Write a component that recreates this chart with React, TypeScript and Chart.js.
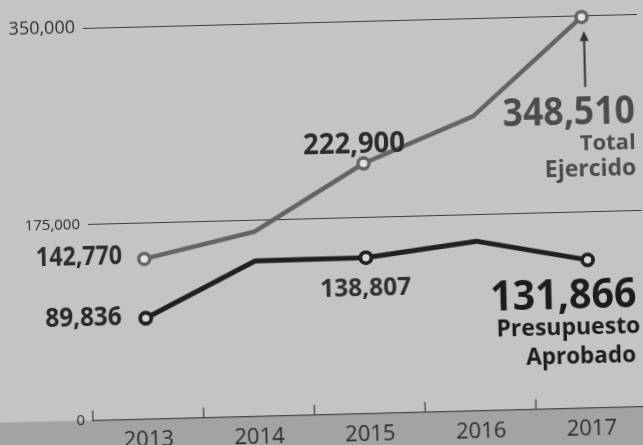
import React, { useEffect, useRef } from 'react';
import { Chart, registerables } from 'chart.js';

Chart.register(...registerables);

// ---- data ----
const years = ['2013', '2014', '2015', '2016', '2017'];
const totalEjercido = [142770, 164500, 222900, 262500, 348510];
const presupuestoAprobado = [89836, 138500, 138807, 151000, 131866];
const seriesNames = ['Total Ejercido', 'Presupuesto Aprobado'];
const yTickValues = [0, 175000, 350000];
const markedYears = ['2013', '2015', '2017'];

// ---- styles ----
const BG = '#c4c4c4';
const BAND = '#a3a3a3';
const TOTAL_COLOR = '#646464';
const PRES_COLOR = '#202020';
const FONT = '"Open Sans", "Noto Sans", sans-serif';
const ROTATION = -1.45;

const fmt = (v: number) => v.toLocaleString('en-US');

type Ann = {
  ds: number;
  idx: number;
  text: string;
  dx: number;
  dy: number;
  align: CanvasTextAlign;
  size: number;
  weight: number;
  color: string;
  sx: number;
};

const last = years.length - 1;
const [totalLine1, totalLine2] = seriesNames[0].split(' ');
const [presLine1, presLine2] = seriesNames[1].split(' ');

const annotations: Ann[] = [
  { ds: 0, idx: 0, text: fmt(totalEjercido[0]), dx: -22, dy: 5, align: 'right', size: 27, weight: 700, color: '#2c2c2c', sx: 0.86 },
  { ds: 1, idx: 0, text: fmt(presupuestoAprobado[0]), dx: -24, dy: 6, align: 'right', size: 27, weight: 700, color: '#282828', sx: 0.9 },
  { ds: 0, idx: 2, text: fmt(totalEjercido[2]), dx: -9, dy: -11, align: 'center', size: 28, weight: 700, color: '#2c2c2c', sx: 0.98 },
  { ds: 1, idx: 2, text: fmt(presupuestoAprobado[2]), dx: -1, dy: 38, align: 'center', size: 25, weight: 700, color: '#303030', sx: 0.98 },
  { ds: 0, idx: last, text: fmt(totalEjercido[last]), dx: 51, dy: 107, align: 'right', size: 40, weight: 700, color: '#4c4c4c', sx: 0.89 },
  { ds: 0, idx: last, text: totalLine1, dx: 51, dy: 133, align: 'right', size: 22, weight: 700, color: '#4c4c4c', sx: 1 },
  { ds: 0, idx: last, text: totalLine2, dx: 51, dy: 159, align: 'right', size: 23, weight: 700, color: '#4c4c4c', sx: 1 },
  { ds: 1, idx: last, text: fmt(presupuestoAprobado[last]), dx: 48, dy: 48, align: 'right', size: 41, weight: 700, color: '#1c1c1c', sx: 0.96 },
  { ds: 1, idx: last, text: presLine1, dx: 51, dy: 74, align: 'right', size: 23, weight: 700, color: '#1c1c1c', sx: 1 },
  { ds: 1, idx: last, text: presLine2, dx: 46, dy: 103, align: 'right', size: 22.5, weight: 700, color: '#1c1c1c', sx: 1 },
];

const backgroundPlugin = {
  id: 'paperBackground',
  beforeDraw(chart: any) {
    const { ctx, width, height, chartArea } = chart;
    ctx.save();
    ctx.fillStyle = BG;
    ctx.fillRect(0, 0, width, height);
    ctx.fillStyle = BAND;
    ctx.fillRect(0, chartArea.bottom, width, height - chartArea.bottom);
    ctx.restore();
  },
};

const xTickMarksPlugin = {
  id: 'xTickMarks',
  afterDraw(chart: any) {
    const { ctx, chartArea } = chart;
    const xs = chart.scales.x;
    const marks: number[] = [chartArea.left];
    for (let i = 0; i < years.length - 1; i++) {
      marks.push((xs.getPixelForValue(i) + xs.getPixelForValue(i + 1)) / 2);
    }
    ctx.save();
    ctx.strokeStyle = '#444444';
    ctx.lineWidth = 1.3;
    marks.forEach((x) => {
      ctx.beginPath();
      ctx.moveTo(x, chartArea.bottom);
      ctx.lineTo(x, chartArea.bottom - 10);
      ctx.stroke();
    });
    ctx.restore();
  },
};

const labelsPlugin = {
  id: 'valueLabels',
  afterDatasetsDraw(chart: any) {
    const { ctx } = chart;
    ctx.save();
    annotations.forEach((a) => {
      const el = chart.getDatasetMeta(a.ds).data[a.idx];
      if (!el) return;
      ctx.save();
      ctx.translate(el.x + a.dx, el.y + a.dy);
      ctx.scale(a.sx, 1);
      ctx.font = `${a.weight} ${a.size}px ${FONT}`;
      ctx.fillStyle = a.color;
      ctx.textAlign = a.align;
      ctx.textBaseline = 'alphabetic';
      ctx.fillText(a.text, 0, 0);
      ctx.restore();
    });
    // arrow from the last total label up to its point
    const p = chart.getDatasetMeta(0).data[last];
    if (p) {
      const x = p.x + 2;
      const tip = p.y + 14;
      const bottom = p.y + 70;
      ctx.strokeStyle = '#333333';
      ctx.fillStyle = '#333333';
      ctx.lineWidth = 2;
      ctx.beginPath();
      ctx.moveTo(x, bottom);
      ctx.lineTo(x, tip + 8);
      ctx.stroke();
      ctx.beginPath();
      ctx.moveTo(x, tip);
      ctx.lineTo(x - 4.5, tip + 10);
      ctx.lineTo(x + 4.5, tip + 10);
      ctx.closePath();
      ctx.fill();
    }
    ctx.restore();
  },
};

const radiusFor = (r: number) => years.map((y) => (markedYears.includes(y) ? r : 0));

export default function App() {
  const ref = useRef<HTMLCanvasElement | null>(null);

  useEffect(() => {
    document.documentElement.style.overflow = 'hidden';
    document.body.style.margin = '0';
    document.body.style.background = BG;
    const canvas = ref.current;
    if (!canvas) return;
    Chart.defaults.font.family = FONT;
    const chart = new Chart(canvas, {
      type: 'line',
      data: {
        labels: years,
        datasets: [
          {
            label: seriesNames[0],
            data: totalEjercido,
            borderColor: TOTAL_COLOR,
            borderWidth: 4.5,
            tension: 0,
            borderJoinStyle: 'round',
            pointRadius: radiusFor(5.5),
            pointBorderWidth: 3.5,
            pointBorderColor: TOTAL_COLOR,
            pointBackgroundColor: '#e2e2e2',
            clip: false,
          } as any,
          {
            label: seriesNames[1],
            data: presupuestoAprobado,
            borderColor: PRES_COLOR,
            borderWidth: 5,
            tension: 0,
            borderJoinStyle: 'round',
            pointRadius: radiusFor(5.5),
            pointBorderWidth: 3.8,
            pointBorderColor: PRES_COLOR,
            pointBackgroundColor: '#d8d8d8',
            clip: false,
          } as any,
        ],
      },
      options: {
        animation: false,
        responsive: false,
        devicePixelRatio: 1,
        layout: { padding: { left: 20, right: 21, top: 42, bottom: 0 } },
        plugins: {
          legend: { display: false },
          tooltip: { enabled: false },
        },
        scales: {
          x: {
            type: 'category',
            offset: true,
            grid: { display: false, offset: true },
            border: { display: true, color: '#484848', width: 1.3 },
            ticks: {
              color: '#2e2e2e',
              font: { size: 22 },
              padding: 0,
              maxRotation: 0,
              autoSkip: false,
            },
            afterFit: (s: any) => {
              s.height = 50.5;
            },
          },
          y: {
            min: 0,
            max: 350000,
            afterBuildTicks: (s: any) => {
              s.ticks = yTickValues.map((v) => ({ value: v }));
            },
            grid: { color: '#3c3c3c', lineWidth: 1, drawTicks: false },
            border: { display: false },
            ticks: {
              padding: 8,
              color: '#2e2e2e',
              font: (c: any) => ({
                size: c.tick && c.tick.value === 350000 ? 18 : 15,
              }),
              callback: (v: any) => fmt(Number(v)),
            },
            afterFit: (s: any) => {
              s.width = 88;
            },
          },
        },
      } as any,
      plugins: [backgroundPlugin, xTickMarksPlugin, labelsPlugin],
    });
    return () => chart.destroy();
  }, []);

  return (
    <div
      style={{
        position: 'fixed',
        left: -20,
        top: -20,
        width: 683,
        height: 485,
        background: BG,
        transform: `rotate(${ROTATION}deg)`,
        transformOrigin: '341.5px 242.5px',
      }}
    >
      <canvas ref={ref} width={683} height={485} style={{ display: 'block', width: 683, height: 485 }} />
    </div>
  );
}
